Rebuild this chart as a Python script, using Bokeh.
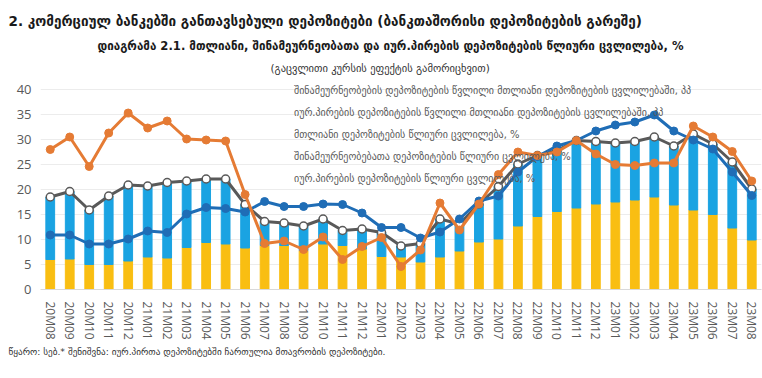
from bokeh.plotting import figure
from bokeh.models import ColumnDataSource, Legend, LegendItem, FactorRange, Range1d, FixedTicker, Title
from bokeh.embed import file_html
from bokeh.resources import INLINE

months = ["20M08", "20M09", "20M10", "20M11", "20M12",
          "21M01", "21M02", "21M03", "21M04", "21M05", "21M06", "21M07", "21M08", "21M09", "21M10", "21M11", "21M12",
          "22M01", "22M02", "22M03", "22M04", "22M05", "22M06", "22M07", "22M08", "22M09", "22M10", "22M11", "22M12",
          "23M01", "23M02", "23M03", "23M04", "23M05", "23M06", "23M07", "23M08"]

# total deposits, annual change %
total = [18.5, 19.6, 15.9, 18.7, 20.9, 20.7, 21.4, 21.7, 22.1, 22.1, 17.0, 13.6, 13.3, 12.7, 14.1, 11.8, 12.1,
         11.4, 8.7, 9.2, 14.1, 13.1, 17.1, 20.6, 25.1, 26.8, 27.8, 29.8, 29.6, 29.3, 29.6, 30.5, 28.7, 31.1, 29.1,
         25.5, 20.1]
# households deposits, annual change %
households = [10.9, 10.9, 9.1, 9.1, 10.1, 11.7, 11.4, 15.1, 16.4, 16.2, 15.5, 17.6, 16.6, 16.6, 17.1, 17.0, 15.3,
              12.4, 12.4, 10.3, 11.5, 14.1, 17.7, 18.7, 23.5, 26.6, 28.7, 29.8, 31.7, 32.9, 33.5, 34.9, 31.7, 29.9,
              28.1, 23.5, 18.8]
# legal entities deposits, annual change %
legal = [28.0, 30.5, 24.6, 31.3, 35.3, 32.3, 33.7, 30.1, 29.9, 29.7, 19.0, 9.2, 9.7, 8.0, 10.5, 6.0, 8.6,
         10.4, 4.6, 7.9, 17.3, 11.9, 17.1, 23.0, 27.5, 26.8, 27.5, 29.8, 27.1, 25.0, 24.8, 25.3, 25.3, 32.7, 30.5,
         27.6, 21.7]
# contributions, pp (lower yellow segment, upper blue segment)
contrib_yellow = [6.0, 6.1, 5.0, 5.0, 5.7, 6.5, 6.3, 8.4, 9.4, 9.1, 8.3, 8.8, 8.8, 7.8, 9.1, 8.8, 8.1,
                  6.6, 6.5, 5.5, 6.5, 7.7, 9.5, 10.1, 12.7, 14.6, 15.6, 16.3, 17.1, 17.5, 17.9, 18.5, 16.9, 15.9,
                  15.0, 12.3, 9.9]
contrib_blue = [12.5, 13.5, 10.9, 13.7, 15.2, 14.2, 15.1, 13.3, 12.7, 13.0, 8.7, 4.8, 4.5, 4.9, 5.0, 3.0, 4.0,
                4.8, 2.2, 3.7, 7.6, 5.4, 7.6, 10.5, 12.4, 12.2, 12.2, 13.5, 12.5, 11.8, 11.7, 12.0, 11.8, 15.2,
                14.1, 13.2, 10.2]

y_ticks = [0, 5, 10, 15, 20, 25, 30, 35, 40]

legend_labels = [
    "შინამეურნეობების დეპოზიტების წვლილი მთლიანი დეპოზიტების ცვლილებაში, პპ",
    "იურ.პირების დეპოზიტების წვლილი მთლიანი დეპოზიტების ცვლილებაში, პპ",
    "მთლიანი დეპოზიტების წლიური ცვლილება, %",
    "შინამეურნეობებათა დეპოზიტების წლიური ცვლილება, %",
    "იურ.პირების დეპოზიტების წლიური ცვლილება, %",
]
title1 = "2. კომერციულ ბანკებში განთავსებული დეპოზიტები (ბანკთაშორისი დეპოზიტების გარეშე)"
title2 = "დიაგრამა 2.1. მთლიანი, შინამეურნეობათა და იურ.პირების დეპოზიტების წლიური ცვლილება, %"
title3 = "(გაცვლითი კურსის ეფექტის გამორიცხვით)"
footnote = "წყარო: სებ.* შენიშვნა: იურ.პირთა დეპოზიტებში ჩართულია მთავრობის დეპოზიტები."

BLUE = "#1aa3e2"
YELLOW = "#f9be12"
GRAY = "#595959"
DBLUE = "#1f6db6"
ORANGE = "#e57b34"
GEO = "DejaVu Sans"

src = ColumnDataSource(dict(m=months, total=total, hh=households, legal=legal,
                            yel=contrib_yellow, blu=contrib_blue))

p = figure(x_range=FactorRange(*months), y_range=Range1d(0, 42),
           width=762, height=378, output_backend="svg", toolbar_location=None, title_location=None,
           min_border_left=40, min_border_right=1, min_border_top=79, min_border_bottom=89)

p.vbar_stack(["yel", "blu"], x="m", width=0.45, color=[YELLOW, BLUE], source=src)

p.line("m", "total", source=src, color=GRAY, line_width=3)
p.scatter("m", "total", source=src, size=8, fill_color="white", line_color=GRAY, line_width=1.5)
p.line("m", "hh", source=src, color=DBLUE, line_width=3)
p.scatter("m", "hh", source=src, size=8, fill_color=DBLUE, line_color=DBLUE)
p.line("m", "legal", source=src, color=ORANGE, line_width=3)
p.scatter("m", "legal", source=src, size=8, fill_color=ORANGE, line_color=ORANGE)

# legend proxies
lb = p.line(x=[], y=[], color=BLUE, line_width=8, line_cap="butt")
ly = p.line(x=[], y=[], color=YELLOW, line_width=8, line_cap="butt")
lt = p.line(x=[], y=[], color=GRAY, line_width=3)
st = p.scatter(x=[], y=[], size=8, fill_color="white", line_color=GRAY, line_width=1.5)
lh = p.line(x=[], y=[], color=DBLUE, line_width=3)
sh = p.scatter(x=[], y=[], size=8, fill_color=DBLUE, line_color=DBLUE)
lo = p.line(x=[], y=[], color=ORANGE, line_width=3)
so = p.scatter(x=[], y=[], size=8, fill_color=ORANGE, line_color=ORANGE)

legend = Legend(items=[LegendItem(label=legend_labels[0], renderers=[lb]),
                       LegendItem(label=legend_labels[1], renderers=[ly]),
                       LegendItem(label=legend_labels[2], renderers=[lt, st]),
                       LegendItem(label=legend_labels[3], renderers=[lh, sh]),
                       LegendItem(label=legend_labels[4], renderers=[lo, so])],
                location=(226, 101), orientation="vertical",
                background_fill_alpha=0, border_line_alpha=0,
                glyph_width=26, glyph_height=19, label_height=19, spacing=3,
                padding=0, margin=0, label_standoff=2,
                label_text_font_size="10px", label_text_color=GRAY, label_text_font=GEO)
p.add_layout(legend, "center")

p.yaxis.ticker = FixedTicker(ticks=y_ticks)
p.yaxis.axis_line_color = None
p.yaxis.major_tick_line_color = None
p.yaxis.minor_tick_line_color = None
p.yaxis.major_tick_out = 0
p.yaxis.minor_tick_out = 0
p.yaxis.major_label_text_font_size = "13px"
p.yaxis.major_label_text_color = GRAY
p.yaxis.major_label_text_font = "Open Sans"
p.yaxis.major_label_standoff = 9

p.xaxis.major_label_orientation = "vertical"
p.xaxis.major_label_text_font_size = "12px"
p.xaxis.major_label_text_color = GRAY
p.xaxis.major_label_text_font = "Open Sans"
p.xaxis.axis_line_color = "#d9d9d9"
p.xaxis.major_tick_line_color = None
p.xaxis.major_label_standoff = 6

p.xgrid.grid_line_color = None
p.ygrid.grid_line_color = "#ececec"
p.outline_line_color = None

p.add_layout(Title(text=title3, align="left", offset=230, text_font=GEO, text_font_size="10.5px",
                   text_font_style="normal", text_color="#333333", standoff=11), "above")
p.add_layout(Title(text=title2, align="left", offset=57, text_font=GEO, text_font_size="11.6px",
                   text_font_style="bold", text_color="#1a1a1a", standoff=3), "above")
p.add_layout(Title(text=title1, align="left", offset=-32, text_font=GEO, text_font_size="13.5px",
                   text_font_style="bold", text_color="#1a1a1a", standoff=14), "above")
p.add_layout(Title(text=footnote, align="left", offset=-32, text_font=GEO, text_font_size="9.2px",
                   text_font_style="normal", text_color="#333333", standoff=3), "below")

open("out.html", "w").write(file_html(p, INLINE))
